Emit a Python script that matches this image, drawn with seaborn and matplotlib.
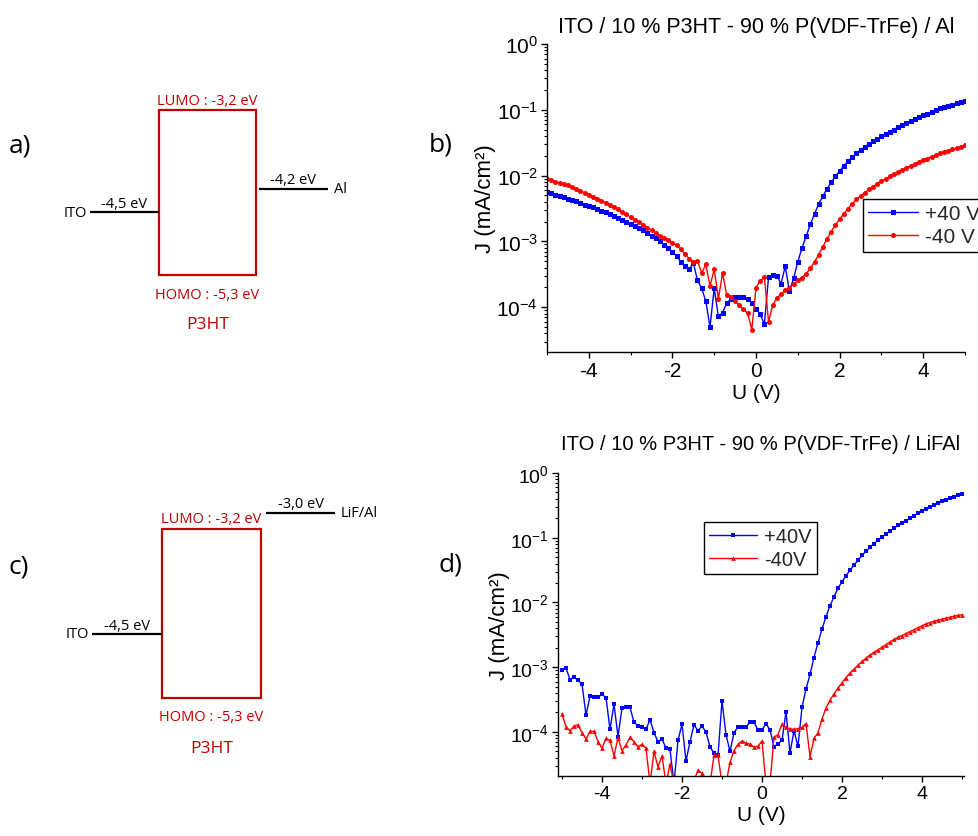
import numpy as np
import pandas as pd
import matplotlib
matplotlib.use("Agg")
import matplotlib.pyplot as plt
import seaborn as sns
from matplotlib.patches import Rectangle
from matplotlib.ticker import LogLocator, MultipleLocator, NullFormatter

# ---------------- data ----------------
U = np.round(np.linspace(-5.0, 5.0, 101), 1)   # measurement grid (V)

# panel b : ITO / P3HT:P(VDF-TrFe) / Al, log10(J [mA/cm2])
logJ_b_pos = [
    -2.25, -2.27, -2.29, -2.31, -2.33, -2.35, -2.37, -2.39, -2.41, -2.44,
    -2.46, -2.48, -2.51, -2.53, -2.56, -2.58, -2.61, -2.64, -2.67, -2.70,
    -2.73, -2.76, -2.80, -2.83, -2.87, -2.91, -2.95, -3.00, -3.05, -3.10,
    -3.16, -3.22, -3.31, -3.38, -3.42, -3.33, -3.59, -3.71, -3.91, -4.30,
    -3.71, -4.14, -4.08, -3.94, -3.87, -3.84, -3.84, -3.84, -3.87, -3.94,
    -4.03, -4.10, -4.26, -3.54, -3.51, -3.53, -3.64, -3.38, -3.76, -3.56,
    -3.31, -3.10, -2.92, -2.74, -2.58, -2.43, -2.31, -2.20, -2.10, -2.01,
    -1.93, -1.85, -1.78, -1.72, -1.66, -1.61, -1.56, -1.52, -1.48, -1.44,
    -1.40, -1.36, -1.33, -1.30, -1.26, -1.23, -1.20, -1.17, -1.14, -1.11,
    -1.08, -1.06, -1.03, -1.01, -0.98, -0.96, -0.94, -0.92, -0.90, -0.88,
    -0.86]
logJ_b_neg = [
    -2.05, -2.07, -2.09, -2.11, -2.13, -2.15, -2.18, -2.20, -2.23, -2.26,
    -2.29, -2.32, -2.35, -2.38, -2.41, -2.44, -2.48, -2.51, -2.55, -2.59,
    -2.63, -2.67, -2.71, -2.75, -2.79, -2.83, -2.87, -2.91, -2.95, -2.98,
    -3.02, -3.06, -3.12, -3.19, -3.26, -3.31, -3.29, -3.48, -3.35, -3.68,
    -3.42, -3.87, -3.48, -3.82, -3.84, -3.91, -3.97, -4.03, -4.09, -4.34,
    -3.70, -3.60, -3.54, -4.22, -3.97, -3.86, -3.80, -3.74, -3.70, -3.65,
    -3.59, -3.55, -3.49, -3.41, -3.31, -3.20, -3.08, -2.96, -2.85, -2.75,
    -2.66, -2.58, -2.50, -2.43, -2.36, -2.31, -2.26, -2.21, -2.17, -2.12,
    -2.08, -2.05, -2.01, -1.98, -1.94, -1.91, -1.88, -1.85, -1.82, -1.79,
    -1.76, -1.74, -1.71, -1.69, -1.66, -1.64, -1.62, -1.60, -1.58, -1.56,
    -1.54]

# panel d : ITO / P3HT:P(VDF-TrFe) / LiF/Al, log10(J [mA/cm2])
logJ_d_pos = [
    -3.04, -3.01, -3.19, -3.15, -3.20, -3.26, -3.74, -3.45, -3.46, -3.46,
    -3.42, -3.47, -3.96, -3.57, -4.07, -3.63, -3.61, -3.62, -3.85, -3.91,
    -3.92, -3.96, -3.81, -4.01, -4.15, -4.11, -4.25, -4.27, -4.80, -4.13,
    -3.88, -4.45, -4.15, -3.89, -3.98, -3.91, -4.00, -4.23, -4.33, -4.36,
    -3.52, -4.04, -4.30, -4.01, -3.92, -3.93, -3.93, -3.84, -3.85, -3.97,
    -3.97, -3.87, -3.97, -4.23, -4.18, -4.13, -3.69, -4.32, -3.98, -4.22,
    -3.62, -3.34, -3.11, -2.85, -2.62, -2.41, -2.22, -2.05, -1.91, -1.78,
    -1.68, -1.59, -1.50, -1.42, -1.35, -1.27, -1.21, -1.15, -1.09, -1.04,
    -0.99, -0.94, -0.90, -0.85, -0.81, -0.77, -0.74, -0.70, -0.66, -0.62,
    -0.59, -0.56, -0.53, -0.50, -0.47, -0.44, -0.41, -0.39, -0.37, -0.34,
    -0.32]
logJ_d_neg = [
    -3.72, -3.92, -3.98, -3.91, -3.89, -4.01, -4.11, -3.99, -3.99, -4.15,
    -4.25, -4.10, -4.13, -4.37, -4.09, -4.29, -4.20, -4.08, -4.15, -4.23,
    -4.19, -4.25, -4.80, -4.30, -4.54, -4.37, -4.80, -4.50, -4.80, -4.90,
    -4.90, -4.90, -4.80, -4.75, -4.59, -4.64, -4.80, -4.80, -4.36, -4.36,
    -4.80, -4.80, -4.47, -4.29, -4.19, -4.14, -4.17, -4.19, -4.23, -4.22,
    -4.14, -4.80, -4.80, -4.08, -4.04, -3.88, -3.93, -3.95, -3.96, -3.95,
    -3.93, -3.87, -4.38, -4.10, -4.01, -3.80, -3.63, -3.51, -3.41, -3.32,
    -3.24, -3.16, -3.09, -3.03, -2.97, -2.91, -2.86, -2.81, -2.77, -2.73,
    -2.69, -2.65, -2.61, -2.57, -2.54, -2.51, -2.48, -2.45, -2.42, -2.39,
    -2.36, -2.33, -2.31, -2.29, -2.27, -2.26, -2.24, -2.23, -2.21, -2.20,
    -2.19]

series_b = ["+40 V", "-40 V"]
series_d = ["+40V", "-40V"]
title_b = "ITO / 10 % P3HT - 90 % P(VDF-TrFe) / Al"
title_d = "ITO / 10 % P3HT - 90 % P(VDF-TrFe) / LiFAl"

# energy levels (eV)
E_ITO = -4.5
E_AL = -4.2
E_LIFAL = -3.0
E_LUMO = -3.2
E_HOMO = -5.3

# ---------------- style ----------------
sns.set_theme(style="ticks")
plt.rcParams["font.family"] = ["Liberation Sans", "DejaVu Sans"]
plt.rcParams["mathtext.fontset"] = "custom"
plt.rcParams["mathtext.rm"] = "Liberation Sans"
plt.rcParams["mathtext.it"] = "Liberation Sans:italic"
plt.rcParams["mathtext.default"] = "regular"
plt.rcParams["axes.unicode_minus"] = False

W, H = 979, 837
fig = plt.figure(figsize=(W / 100, H / 100), dpi=100)
fig.patch.set_facecolor("white")


def rect(l, t, r, b):
    return [l / W, 1 - b / H, (r - l) / W, (b - t) / H]


def px_pt(p):
    return p * 72 / 100


BLUE = "#0000ff"
RED = "#ff0000"
DRED = "#c00000"


def jv_panel(ax, pos, neg, labels, markers, msize, title, tsize, tpad,
             xlim, leg_xy, leg_fs, lsize):
    df = pd.DataFrame({
        "U": np.concatenate([U, U]),
        "J": np.concatenate([10 ** np.asarray(pos), 10 ** np.asarray(neg)]),
        "series": [labels[0]] * len(U) + [labels[1]] * len(U),
    })
    sns.lineplot(data=df, x="U", y="J", hue="series", style="series",
                 palette={labels[0]: BLUE, labels[1]: RED},
                 markers={labels[0]: markers[0], labels[1]: markers[1]},
                 dashes=False, markersize=msize, markeredgewidth=0,
                 linewidth=1.0, ax=ax, legend=False, sort=True)
    ax.set_yscale("log")
    ax.set_ylim(10 ** -4.68, 1.0)
    ax.set_xlim(*xlim)
    ax.xaxis.set_major_locator(MultipleLocator(2))
    ax.xaxis.set_minor_locator(MultipleLocator(1))
    ax.yaxis.set_major_locator(LogLocator(base=10, numticks=12))
    ax.yaxis.set_minor_locator(LogLocator(base=10, subs=np.arange(2, 10), numticks=12))
    ax.yaxis.set_minor_formatter(NullFormatter())
    for s in ["top", "right"]:
        ax.spines[s].set_visible(False)
    for s in ["left", "bottom"]:
        ax.spines[s].set_color("black")
        ax.spines[s].set_linewidth(1.0)
    ax.tick_params(which="major", direction="out", length=4.5, width=1.0,
                   colors="black", labelsize=lsize, pad=2)
    ax.tick_params(which="minor", direction="out", length=2.5, width=0.8,
                   colors="black")
    ax.set_xlabel("U (V)", fontsize=15, color="black", labelpad=2)
    ax.set_ylabel("J (mA/cm²)", fontsize=16, color="black", labelpad=0)
    ax.set_title(title, fontsize=tsize, color="black", pad=tpad)
    ax.set_facecolor("white")
    lines = ax.get_lines()[:2]
    leg = ax.legend(handles=lines, labels=labels, loc="upper left",
                    bbox_to_anchor=(leg_xy[0] / W, 1 - leg_xy[1] / H),
                    bbox_transform=fig.transFigure, borderaxespad=0,
                    frameon=True, fancybox=False, framealpha=1,
                    edgecolor="black", fontsize=leg_fs, handlelength=2.4,
                    handletextpad=0.35, labelspacing=0.2, borderpad=0.25)
    leg.get_frame().set_linewidth(1.0)
    return ax


axb = fig.add_axes(rect(547, 45, 965, 353))
jv_panel(axb, logJ_b_pos, logJ_b_neg, series_b, ["s", "o"], 3.6,
         title_b, 15.5, 9, (-5, 5), (863, 200), 15, 15)

axd = fig.add_axes(rect(558, 474, 964, 777))
jv_panel(axd, logJ_d_pos, logJ_d_neg, series_d, ["s", "^"], 3.4,
         title_d, 14.5, 17, (-5.1, 5.05), (704, 523), 14.5, 14)

# ---------------- energy diagrams ----------------
DFONT = ["Open Sans", "DejaVu Sans"]


def diagram(ax, box_x, left_x, right_x, e_right, right_name, right_lbl,
            offs):
    ax.set_xlim(0, 420)
    ax.axis("off")
    ax.add_patch(Rectangle((box_x[0], E_HOMO), box_x[1] - box_x[0],
                           E_LUMO - E_HOMO, fill=False, edgecolor=DRED,
                           linewidth=1.6))
    ax.plot(left_x, [E_ITO, E_ITO], color="black", lw=1.6,
            solid_capstyle="butt")
    ax.plot(right_x, [e_right, e_right], color="black", lw=1.6,
            solid_capstyle="butt")
    cx = (box_x[0] + box_x[1]) / 2
    kw = dict(textcoords="offset points", family=DFONT)
    ax.annotate("ITO", xy=(left_x[0] - 3, E_ITO), xytext=(0, 0), ha="right",
                va="center", fontsize=10.5, color="black", **kw)
    ax.annotate("-4,5 eV", xy=(sum(left_x) / 2, E_ITO),
                xytext=(0, offs["ito"]), ha="center", va="baseline",
                fontsize=10.5, color="black", **kw)
    ax.annotate(right_name, xy=(right_x[1] + 6, e_right), xytext=(0, 0),
                ha="left", va="center", fontsize=10.5, color="black", **kw)
    ax.annotate(right_lbl, xy=(sum(right_x) / 2, e_right),
                xytext=(0, offs["right"]), ha="center", va="baseline",
                fontsize=10.5, color="black", **kw)
    ax.annotate("LUMO : -3,2 eV", xy=(cx, E_LUMO), xytext=(0, offs["lumo"]),
                ha="center", va="baseline", fontsize=10.5, color=DRED, **kw)
    ax.annotate("HOMO : -5,3 eV", xy=(cx, E_HOMO), xytext=(0, offs["homo"]),
                ha="center", va="baseline", fontsize=10.5, color=DRED, **kw)
    ax.annotate("P3HT", xy=(cx, E_HOMO), xytext=(0, offs["p3ht"]),
                ha="center", va="baseline", fontsize=12.5, color=DRED, **kw)


# panel a: pixel rows 60..360, LUMO drawn at y=111, 78.6 px/eV
axa = fig.add_axes(rect(0, 60, 420, 360))
axa.set_ylim(-3.2 - (360 - 111) / 78.6, -3.2 + (111 - 60) / 78.6)
diagram(axa, (159, 256), [90, 159], [259, 328], E_AL, "Al", "-4,2 eV",
        dict(ito=px_pt(5), right=px_pt(6), lumo=px_pt(6),
             homo=-px_pt(23), p3ht=-px_pt(53)))

# panel c: pixel rows 480..780, LUMO drawn at y=530, 80.5 px/eV
axc = fig.add_axes(rect(0, 480, 420, 780))
axc.set_ylim(-3.2 - (780 - 530) / 80.5, -3.2 + (530 - 480) / 80.5)
diagram(axc, (162, 261), [92, 162], [266, 335], E_LIFAL, "LiF/Al", "-3,0 eV",
        dict(ito=px_pt(5), right=px_pt(6), lumo=px_pt(7),
             homo=-px_pt(22), p3ht=-px_pt(54)))

# panel letters
for lbl, x, y in [("a)", 9, 146), ("b)", 429, 145), ("c)", 9, 567), ("d)", 439, 565)]:
    fig.text(x / W, 1 - y / H, lbl, fontsize=19, family=DFONT, ha="left",
             va="center", color="black")

fig.savefig("out.png", dpi=100, facecolor="white")
